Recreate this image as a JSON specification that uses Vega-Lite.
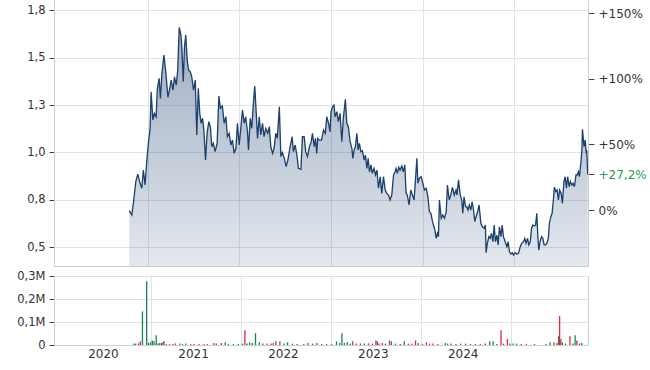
{
  "$schema": "https://vega.github.io/schema/vega-lite/v6.json",
  "background": "white",
  "padding": {"left": 16, "top": 0, "right": 4, "bottom": 4},
  "bounds": "flush",
  "spacing": 10,
  "config": {
    "view": {"stroke": null},
    "axis": {
      "labelFont": "DejaVu Sans",
      "labelFontSize": 11.5,
      "labelColor": "#333333",
      "domainColor": "#c9ced6",
      "gridColor": "#e0e2e7",
      "tickColor": "#444444",
      "title": null
    }
  },
  "datasets": {
    "price": [
      {"d":"2020-10-19","c":0.693},{"d":"2020-10-29","c":0.670},{"d":"2020-11-05","c":0.740},{"d":"2020-11-14","c":0.846},{"d":"2020-11-22","c":0.886},
      {"d":"2020-12-01","c":0.837},{"d":"2020-12-08","c":0.811},{"d":"2020-12-14","c":0.907},{"d":"2020-12-21","c":0.828},{"d":"2020-12-28","c":0.960},
      {"d":"2021-01-03","c":1.048},{"d":"2021-01-10","c":1.127},{"d":"2021-01-14","c":1.320},{"d":"2021-01-21","c":1.171},{"d":"2021-01-27","c":1.206},
      {"d":"2021-02-03","c":1.188},{"d":"2021-02-08","c":1.338},{"d":"2021-02-15","c":1.391},{"d":"2021-02-20","c":1.285},{"d":"2021-02-26","c":1.417},
      {"d":"2021-03-06","c":1.514},{"d":"2021-03-14","c":1.417},{"d":"2021-03-22","c":1.291},{"d":"2021-03-28","c":1.329},{"d":"2021-04-04","c":1.382},
      {"d":"2021-04-11","c":1.329},{"d":"2021-04-17","c":1.399},{"d":"2021-04-24","c":1.355},{"d":"2021-04-30","c":1.435},{"d":"2021-05-06","c":1.660},
      {"d":"2021-05-13","c":1.619},{"d":"2021-05-17","c":1.540},{"d":"2021-05-22","c":1.373},{"d":"2021-05-27","c":1.557},{"d":"2021-06-01","c":1.619},
      {"d":"2021-06-07","c":1.487},{"d":"2021-06-12","c":1.435},{"d":"2021-06-19","c":1.426},{"d":"2021-06-25","c":1.399},{"d":"2021-07-02","c":1.329},
      {"d":"2021-07-09","c":1.382},{"d":"2021-07-15","c":1.092},{"d":"2021-07-21","c":1.338},{"d":"2021-07-27","c":1.206},{"d":"2021-08-01","c":1.154},
      {"d":"2021-08-07","c":1.180},{"d":"2021-08-12","c":1.118},{"d":"2021-08-19","c":0.960},{"d":"2021-08-25","c":1.101},{"d":"2021-09-01","c":1.162},
      {"d":"2021-09-07","c":1.136},{"d":"2021-09-13","c":1.030},{"d":"2021-09-19","c":1.048},{"d":"2021-09-26","c":1.004},{"d":"2021-10-04","c":1.048},
      {"d":"2021-10-11","c":1.298},{"d":"2021-10-17","c":1.233},{"d":"2021-10-25","c":1.245},{"d":"2021-11-01","c":1.154},{"d":"2021-11-08","c":1.188},
      {"d":"2021-11-14","c":1.083},{"d":"2021-11-21","c":1.101},{"d":"2021-11-28","c":1.039},{"d":"2021-12-04","c":1.065},{"d":"2021-12-11","c":0.995},
      {"d":"2021-12-18","c":1.022},{"d":"2021-12-24","c":1.154},{"d":"2021-12-31","c":1.039},{"d":"2022-01-07","c":1.136},{"d":"2022-01-13","c":1.224},
      {"d":"2022-01-20","c":1.154},{"d":"2022-01-26","c":1.188},{"d":"2022-02-02","c":1.109},{"d":"2022-02-06","c":1.013},{"d":"2022-02-13","c":1.180},
      {"d":"2022-02-19","c":1.127},{"d":"2022-02-26","c":1.268},{"d":"2022-03-03","c":1.350},{"d":"2022-03-09","c":1.206},{"d":"2022-03-14","c":1.074},
      {"d":"2022-03-21","c":1.188},{"d":"2022-03-27","c":1.092},{"d":"2022-04-03","c":1.154},{"d":"2022-04-09","c":1.083},{"d":"2022-04-16","c":1.127},
      {"d":"2022-04-24","c":1.101},{"d":"2022-04-30","c":1.136},{"d":"2022-05-06","c":1.030},{"d":"2022-05-13","c":0.995},{"d":"2022-05-19","c":1.022},
      {"d":"2022-05-26","c":1.101},{"d":"2022-06-01","c":1.074},{"d":"2022-06-09","c":1.241},{"d":"2022-06-15","c":0.978},{"d":"2022-06-21","c":1.000},
      {"d":"2022-06-29","c":0.969},{"d":"2022-07-06","c":0.925},{"d":"2022-07-13","c":0.960},{"d":"2022-07-22","c":1.030},{"d":"2022-07-30","c":1.083},
      {"d":"2022-08-04","c":1.004},{"d":"2022-08-11","c":1.039},{"d":"2022-08-18","c":0.986},{"d":"2022-08-24","c":0.916},{"d":"2022-09-03","c":0.911},
      {"d":"2022-09-09","c":1.083},{"d":"2022-09-16","c":1.083},{"d":"2022-09-22","c":1.004},{"d":"2022-09-29","c":0.978},{"d":"2022-10-07","c":1.030},
      {"d":"2022-10-14","c":1.057},{"d":"2022-10-19","c":1.101},{"d":"2022-10-26","c":1.030},{"d":"2022-10-31","c":1.074},{"d":"2022-11-05","c":0.995},
      {"d":"2022-11-09","c":1.074},{"d":"2022-11-16","c":1.065},{"d":"2022-11-24","c":1.065},{"d":"2022-12-02","c":1.118},{"d":"2022-12-09","c":1.101},
      {"d":"2022-12-15","c":1.188},{"d":"2022-12-22","c":1.154},{"d":"2022-12-28","c":1.109},{"d":"2023-01-01","c":1.215},{"d":"2023-01-07","c":1.241},
      {"d":"2023-01-13","c":1.250},{"d":"2023-01-17","c":1.188},{"d":"2023-01-24","c":1.215},{"d":"2023-01-30","c":1.162},{"d":"2023-02-06","c":1.206},
      {"d":"2023-02-13","c":1.057},{"d":"2023-02-19","c":1.180},{"d":"2023-02-27","c":1.280},{"d":"2023-03-05","c":1.154},{"d":"2023-03-11","c":1.136},
      {"d":"2023-03-18","c":1.057},{"d":"2023-03-25","c":1.022},{"d":"2023-03-29","c":0.969},{"d":"2023-04-03","c":1.013},{"d":"2023-04-08","c":1.030},
      {"d":"2023-04-14","c":1.101},{"d":"2023-04-19","c":1.013},{"d":"2023-04-24","c":1.048},{"d":"2023-04-30","c":1.004},{"d":"2023-05-06","c":1.009},
      {"d":"2023-05-13","c":0.960},{"d":"2023-05-18","c":0.986},{"d":"2023-05-24","c":0.916},{"d":"2023-05-29","c":0.969},{"d":"2023-06-03","c":0.898},
      {"d":"2023-06-09","c":0.934},{"d":"2023-06-14","c":0.890},{"d":"2023-06-21","c":0.916},{"d":"2023-06-27","c":0.881},{"d":"2023-07-03","c":0.907},
      {"d":"2023-07-09","c":0.811},{"d":"2023-07-16","c":0.872},{"d":"2023-07-22","c":0.784},{"d":"2023-07-29","c":0.872},{"d":"2023-08-05","c":0.802},
      {"d":"2023-08-11","c":0.784},{"d":"2023-08-18","c":0.775},{"d":"2023-08-24","c":0.749},{"d":"2023-08-31","c":0.775},{"d":"2023-09-07","c":0.881},
      {"d":"2023-09-13","c":0.898},{"d":"2023-09-17","c":0.916},{"d":"2023-09-22","c":0.890},{"d":"2023-09-28","c":0.922},{"d":"2023-10-03","c":0.907},
      {"d":"2023-10-10","c":0.928},{"d":"2023-10-16","c":0.898},{"d":"2023-10-22","c":0.934},{"d":"2023-10-27","c":0.784},{"d":"2023-11-01","c":0.775},
      {"d":"2023-11-08","c":0.723},{"d":"2023-11-15","c":0.802},{"d":"2023-11-21","c":0.775},{"d":"2023-11-28","c":0.749},{"d":"2023-12-03","c":0.846},
      {"d":"2023-12-09","c":0.969},{"d":"2023-12-13","c":0.837},{"d":"2023-12-19","c":0.864},{"d":"2023-12-26","c":0.872},{"d":"2024-01-02","c":0.837},
      {"d":"2024-01-08","c":0.802},{"d":"2024-01-15","c":0.811},{"d":"2024-01-22","c":0.766},{"d":"2024-01-28","c":0.687},{"d":"2024-02-03","c":0.679},
      {"d":"2024-02-08","c":0.644},{"d":"2024-02-13","c":0.617},{"d":"2024-02-19","c":0.591},{"d":"2024-02-24","c":0.547},{"d":"2024-02-29","c":0.573},
      {"d":"2024-03-04","c":0.556},{"d":"2024-03-08","c":0.749},{"d":"2024-03-15","c":0.653},{"d":"2024-03-21","c":0.670},{"d":"2024-03-28","c":0.653},
      {"d":"2024-04-04","c":0.687},{"d":"2024-04-09","c":0.828},{"d":"2024-04-16","c":0.749},{"d":"2024-04-22","c":0.775},{"d":"2024-04-29","c":0.816},
      {"d":"2024-05-06","c":0.775},{"d":"2024-05-13","c":0.802},{"d":"2024-05-17","c":0.775},{"d":"2024-05-23","c":0.855},{"d":"2024-05-30","c":0.775},
      {"d":"2024-06-05","c":0.749},{"d":"2024-06-09","c":0.679},{"d":"2024-06-14","c":0.766},{"d":"2024-06-20","c":0.714},{"d":"2024-06-25","c":0.714},
      {"d":"2024-06-30","c":0.696},{"d":"2024-07-05","c":0.723},{"d":"2024-07-11","c":0.696},{"d":"2024-07-16","c":0.740},{"d":"2024-07-21","c":0.705},
      {"d":"2024-07-27","c":0.635},{"d":"2024-08-01","c":0.661},{"d":"2024-08-07","c":0.687},{"d":"2024-08-13","c":0.723},{"d":"2024-08-20","c":0.626},
      {"d":"2024-08-26","c":0.608},{"d":"2024-09-02","c":0.600},{"d":"2024-09-07","c":0.617},{"d":"2024-09-10","c":0.471},{"d":"2024-09-15","c":0.521},
      {"d":"2024-09-21","c":0.556},{"d":"2024-09-26","c":0.547},{"d":"2024-10-01","c":0.573},{"d":"2024-10-07","c":0.529},{"d":"2024-10-12","c":0.617},
      {"d":"2024-10-17","c":0.529},{"d":"2024-10-23","c":0.564},{"d":"2024-10-28","c":0.512},{"d":"2024-11-02","c":0.608},{"d":"2024-11-08","c":0.556},
      {"d":"2024-11-13","c":0.617},{"d":"2024-11-18","c":0.556},{"d":"2024-11-25","c":0.529},{"d":"2024-12-02","c":0.503},{"d":"2024-12-07","c":0.529},
      {"d":"2024-12-12","c":0.476},{"d":"2024-12-18","c":0.464},{"d":"2024-12-23","c":0.471},{"d":"2024-12-28","c":0.459},{"d":"2025-01-04","c":0.471},
      {"d":"2025-01-10","c":0.464},{"d":"2025-01-17","c":0.468},{"d":"2025-01-24","c":0.503},{"d":"2025-01-30","c":0.521},{"d":"2025-02-06","c":0.529},
      {"d":"2025-02-11","c":0.547},{"d":"2025-02-16","c":0.521},{"d":"2025-02-22","c":0.547},{"d":"2025-02-27","c":0.512},{"d":"2025-03-05","c":0.529},
      {"d":"2025-03-10","c":0.600},{"d":"2025-03-15","c":0.617},{"d":"2025-03-21","c":0.612},{"d":"2025-03-26","c":0.617},{"d":"2025-03-31","c":0.679},
      {"d":"2025-04-04","c":0.556},{"d":"2025-04-08","c":0.485},{"d":"2025-04-13","c":0.529},{"d":"2025-04-19","c":0.556},{"d":"2025-04-24","c":0.547},
      {"d":"2025-04-29","c":0.512},{"d":"2025-05-05","c":0.512},{"d":"2025-05-10","c":0.521},{"d":"2025-05-16","c":0.547},{"d":"2025-05-20","c":0.626},
      {"d":"2025-05-26","c":0.661},{"d":"2025-05-31","c":0.679},{"d":"2025-06-05","c":0.749},{"d":"2025-06-09","c":0.816},{"d":"2025-06-15","c":0.793},
      {"d":"2025-06-20","c":0.802},{"d":"2025-06-25","c":0.749},{"d":"2025-06-30","c":0.802},{"d":"2025-07-06","c":0.784},{"d":"2025-07-11","c":0.731},
      {"d":"2025-07-17","c":0.846},{"d":"2025-07-22","c":0.872},{"d":"2025-07-27","c":0.811},{"d":"2025-08-01","c":0.872},{"d":"2025-08-07","c":0.819},
      {"d":"2025-08-12","c":0.846},{"d":"2025-08-18","c":0.828},{"d":"2025-08-23","c":0.837},{"d":"2025-08-28","c":0.819},{"d":"2025-09-03","c":0.881},
      {"d":"2025-09-08","c":0.881},{"d":"2025-09-13","c":0.898},{"d":"2025-09-17","c":0.872},{"d":"2025-09-23","c":0.951},{"d":"2025-09-27","c":1.022},
      {"d":"2025-09-29","c":1.122},{"d":"2025-10-05","c":1.030},{"d":"2025-10-10","c":1.065},{"d":"2025-10-14","c":0.995},{"d":"2025-10-16","c":1.013},
      {"d":"2025-10-20","c":0.883}
    ],
    "vol": [
      {"d":"2020-10-23","v":6000,"s":"up"},{"d":"2020-10-30","v":6000,"s":"up"},{"d":"2020-11-11","v":7000,"s":"down"},{"d":"2020-11-18","v":16000,"s":"down"},
      {"d":"2020-11-27","v":146000,"s":"up"},{"d":"2020-12-14","v":277000,"s":"up"},{"d":"2020-12-21","v":9000,"s":"up"},{"d":"2020-12-29","v":12000,"s":"up"},
      {"d":"2021-01-06","v":20000,"s":"up"},{"d":"2021-01-13","v":16000,"s":"up"},{"d":"2021-01-22","v":42000,"s":"up"},{"d":"2021-01-29","v":7000,"s":"up"},
      {"d":"2021-02-05","v":9000,"s":"up"},{"d":"2021-02-12","v":9000,"s":"down"},{"d":"2021-02-18","v":12000,"s":"down"},{"d":"2021-02-22","v":17000,"s":"up"},
      {"d":"2021-03-04","v":4000,"s":"down"},{"d":"2021-03-17","v":4000,"s":"down"},{"d":"2021-03-30","v":4000,"s":"down"},{"d":"2021-04-10","v":7000,"s":"up"},
      {"d":"2021-04-28","v":7000,"s":"up"},{"d":"2021-05-09","v":4000,"s":"up"},{"d":"2021-05-22","v":7000,"s":"up"},{"d":"2021-06-11","v":4000,"s":"down"},
      {"d":"2021-06-24","v":4000,"s":"down"},{"d":"2021-07-15","v":4000,"s":"down"},{"d":"2021-08-04","v":4000,"s":"down"},{"d":"2021-08-17","v":4000,"s":"down"},
      {"d":"2021-09-13","v":9000,"s":"down"},{"d":"2021-09-23","v":7000,"s":"up"},{"d":"2021-10-13","v":9000,"s":"down"},{"d":"2021-10-29","v":12000,"s":"up"},
      {"d":"2021-11-11","v":4000,"s":"up"},{"d":"2021-12-01","v":4000,"s":"up"},{"d":"2021-12-21","v":4000,"s":"up"},{"d":"2022-01-07","v":6000,"s":"up"},
      {"d":"2022-01-17","v":64000,"s":"down"},{"d":"2022-01-26","v":6000,"s":"up"},{"d":"2022-02-05","v":12000,"s":"up"},{"d":"2022-02-16","v":9000,"s":"up"},
      {"d":"2022-03-01","v":51000,"s":"up"},{"d":"2022-03-17","v":12000,"s":"up"},{"d":"2022-03-31","v":6000,"s":"up"},{"d":"2022-04-17","v":7000,"s":"down"},
      {"d":"2022-05-03","v":7000,"s":"down"},{"d":"2022-05-12","v":9000,"s":"down"},{"d":"2022-05-23","v":16000,"s":"up"},{"d":"2022-06-08","v":16000,"s":"down"},
      {"d":"2022-06-25","v":6000,"s":"up"},{"d":"2022-07-09","v":12000,"s":"up"},{"d":"2022-07-29","v":6000,"s":"down"},{"d":"2022-08-17","v":4000,"s":"up"},
      {"d":"2022-09-13","v":4000,"s":"up"},{"d":"2022-09-30","v":9000,"s":"up"},{"d":"2022-10-19","v":6000,"s":"down"},{"d":"2022-11-05","v":9000,"s":"up"},
      {"d":"2022-11-25","v":4000,"s":"down"},{"d":"2022-12-15","v":4000,"s":"up"},{"d":"2023-01-04","v":4000,"s":"up"},{"d":"2023-01-24","v":16000,"s":"up"},
      {"d":"2023-02-06","v":9000,"s":"up"},{"d":"2023-02-15","v":51000,"s":"up"},{"d":"2023-02-25","v":9000,"s":"up"},{"d":"2023-03-09","v":12000,"s":"up"},
      {"d":"2023-03-21","v":7000,"s":"up"},{"d":"2023-03-31","v":16000,"s":"down"},{"d":"2023-04-14","v":6000,"s":"up"},{"d":"2023-05-01","v":7000,"s":"down"},
      {"d":"2023-05-17","v":6000,"s":"up"},{"d":"2023-06-03","v":7000,"s":"down"},{"d":"2023-06-19","v":6000,"s":"down"},{"d":"2023-07-03","v":20000,"s":"down"},
      {"d":"2023-07-09","v":16000,"s":"up"},{"d":"2023-07-16","v":7000,"s":"down"},{"d":"2023-07-29","v":9000,"s":"down"},{"d":"2023-08-11","v":6000,"s":"up"},
      {"d":"2023-08-27","v":20000,"s":"down"},{"d":"2023-09-04","v":16000,"s":"up"},{"d":"2023-09-20","v":6000,"s":"up"},{"d":"2023-10-10","v":4000,"s":"down"},
      {"d":"2023-10-26","v":16000,"s":"up"},{"d":"2023-11-12","v":6000,"s":"down"},{"d":"2023-11-25","v":6000,"s":"down"},{"d":"2023-12-11","v":20000,"s":"down"},
      {"d":"2023-12-22","v":9000,"s":"up"},{"d":"2024-01-08","v":4000,"s":"down"},{"d":"2024-01-24","v":12000,"s":"down"},{"d":"2024-02-06","v":6000,"s":"down"},
      {"d":"2024-02-19","v":7000,"s":"down"},{"d":"2024-03-11","v":4000,"s":"down"},{"d":"2024-04-10","v":9000,"s":"up"},{"d":"2024-04-19","v":6000,"s":"up"},
      {"d":"2024-05-03","v":7000,"s":"down"},{"d":"2024-05-23","v":4000,"s":"up"},{"d":"2024-06-11","v":6000,"s":"down"},{"d":"2024-07-01","v":6000,"s":"up"},
      {"d":"2024-07-21","v":4000,"s":"down"},{"d":"2024-08-10","v":4000,"s":"up"},{"d":"2024-08-30","v":4000,"s":"down"},{"d":"2024-09-19","v":6000,"s":"down"},
      {"d":"2024-10-07","v":16000,"s":"up"},{"d":"2024-10-21","v":16000,"s":"up"},{"d":"2024-11-05","v":4000,"s":"up"},{"d":"2024-11-22","v":64000,"s":"down"},
      {"d":"2024-12-02","v":6000,"s":"down"},{"d":"2024-12-18","v":26000,"s":"down"},{"d":"2024-12-28","v":6000,"s":"up"},{"d":"2025-01-10","v":7000,"s":"up"},
      {"d":"2025-01-24","v":6000,"s":"up"},{"d":"2025-02-12","v":4000,"s":"up"},{"d":"2025-03-05","v":4000,"s":"down"},{"d":"2025-04-07","v":4000,"s":"down"},
      {"d":"2025-05-23","v":4000,"s":"up"},{"d":"2025-06-09","v":12000,"s":"up"},{"d":"2025-06-25","v":12000,"s":"down"},{"d":"2025-07-07","v":9000,"s":"down"},
      {"d":"2025-07-14","v":38000,"s":"up"},{"d":"2025-07-18","v":126000,"s":"down"},{"d":"2025-07-23","v":26000,"s":"down"},{"d":"2025-07-29","v":12000,"s":"up"},
      {"d":"2025-08-11","v":6000,"s":"up"},{"d":"2025-08-29","v":38000,"s":"down"},{"d":"2025-09-10","v":6000,"s":"up"},{"d":"2025-09-19","v":42000,"s":"up"},
      {"d":"2025-09-26","v":20000,"s":"down"},{"d":"2025-10-07","v":6000,"s":"up"},{"d":"2025-10-16","v":9000,"s":"up"}
    ]
  },
  "vconcat": [
    {
      "width": 534,
      "height": 266,
      "layer": [
        {
          "data": {"name": "price"},
          "encoding": {
            "x": {
              "field": "d", "type": "temporal",
              "scale": {"domain": ["2019-12-24", "2025-10-21"]},
              "axis": {
                "values": [{"year": 2020}, {"year": 2021}, {"year": 2022}, {"year": 2023}, {"year": 2024}, {"year": 2025}],
                "labels": false, "ticks": false, "grid": true,
                "gridOpacity": {"condition": {"test": "year(datum.value) == 2020", "value": 0}, "value": 1}
              }
            },
            "y": {
              "field": "c", "type": "quantitative",
              "scale": {"domain": [0.401, 1.804], "zero": false, "nice": false},
              "axis": {
                "values": [0.5, 0.75, 1, 1.25, 1.5, 1.75],
                "labelExpr": "replace(format(datum.value, '.1f'), '.', ',')",
                "tickSize": 5, "labelPadding": 4, "grid": true
              }
            }
          },
          "layer": [
            {
              "mark": {
                "type": "area", "clip": true,
                "color": {
                  "gradient": "linear", "x1": 0, "y1": 0, "x2": 0, "y2": 1,
                  "stops": [
                    {"offset": 0, "color": "rgba(42,74,120,0.46)"},
                    {"offset": 1, "color": "rgba(42,74,120,0.02)"}
                  ]
                }
              }
            },
            {"mark": {"type": "line", "color": "#1b3f6b", "strokeWidth": 1.3, "clip": true}}
          ]
        },
        {
          "data": {"values": [{"pct": 0.272}]},
          "mark": {"type": "tick", "opacity": 0},
          "encoding": {
            "y": {
              "field": "pct", "type": "quantitative",
              "scale": {"domain": [-0.427, 1.602], "zero": false, "nice": false},
              "axis": {
                "orient": "right",
                "values": [0, 0.5, 1, 1.5, 0.272],
                "labelExpr": "datum.value == 0 ? '0%' : '+' + replace(format(datum.value * 100, '.1~f'), '.', ',') + '%'",
                "labelColor": {"condition": {"test": "abs(datum.value - 0.272) < 0.001", "value": "#1f9a56"}, "value": "#333333"},
                "labelFontSize": 12, "tickSize": 6, "labelPadding": 4, "grid": false, "labelOverlap": false
              }
            }
          }
        }
      ],
      "resolve": {"scale": {"y": "independent"}, "axis": {"y": "independent"}}
    },
    {
      "width": 534,
      "height": 69,
      "view": {"stroke": "#c9ced6"},
      "data": {"name": "vol"},
      "mark": {"type": "bar", "width": 1.3},
      "encoding": {
        "x": {
          "field": "d", "type": "temporal",
          "scale": {"domain": ["2019-12-24", "2025-10-21"]},
          "axis": {
            "values": [{"year": 2020}, {"year": 2021}, {"year": 2022}, {"year": 2023}, {"year": 2024}, {"year": 2025}],
            "labelExpr": "year(datum.value) >= 2025 ? '' : timeFormat(datum.value, '%Y')",
            "labelOffset": 42, "ticks": false, "labelPadding": 3, "labelFontSize": 12,
            "labelOverlap": false, "labelBound": false, "labelFlush": false,
            "grid": true,
            "gridOpacity": {"condition": {"test": "year(datum.value) == 2020", "value": 0}, "value": 1}
          }
        },
        "y": {
          "field": "v", "type": "quantitative",
          "scale": {"domain": [0, 300000], "nice": false},
          "axis": {
            "values": [0, 100000, 200000, 300000],
            "labelExpr": "datum.value == 0 ? '0' : replace(format(datum.value / 1000000, '.1f'), '.', ',') + 'M'",
            "tickSize": 5, "labelPadding": 4, "grid": true
          }
        },
        "color": {
          "field": "s", "type": "nominal",
          "scale": {"domain": ["up", "down"], "range": ["#14894b", "#e3283e"]},
          "legend": null
        }
      }
    }
  ]
}
